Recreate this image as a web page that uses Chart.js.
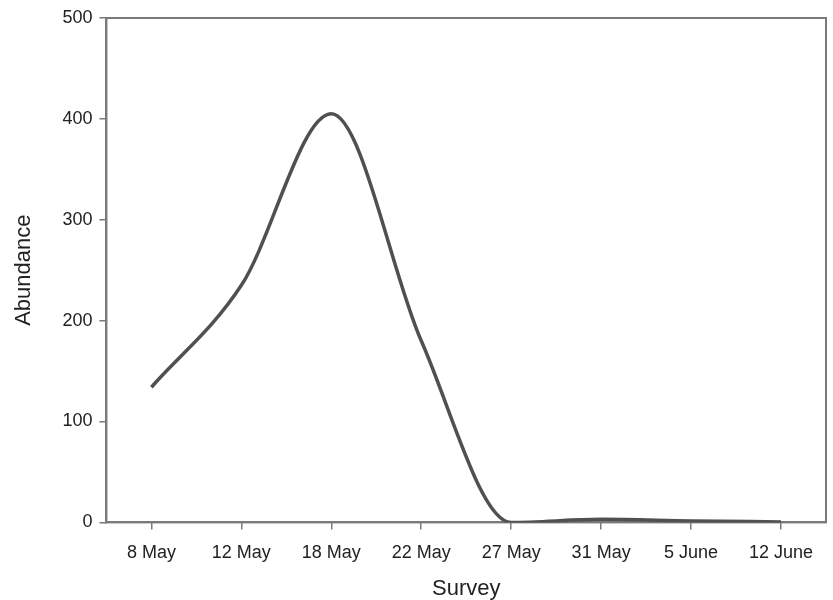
<!DOCTYPE html>
<html>
<head>
<meta charset="utf-8">
<script src="https://cdn.jsdelivr.net/npm/chart.js@4"></script>
<style>
  html, body { margin: 0; padding: 0; background: #fff; }
  #wrap { width: 833px; height: 600px; }
</style>
</head>
<body>
<div id="wrap"><canvas id="chart"></canvas></div>
<script>
const surveys = ["8 May", "12 May", "18 May", "22 May", "27 May", "31 May", "5 June", "12 June"];
const abundance = [134, 235, 405, 180, 0, 3, 1.5, 0.5];
const yTicks = [0, 100, 200, 300, 400, 500];

// draws the box around the plot area (top + right sides)
const frame = {
  id: 'frame',
  beforeDatasetsDraw(chart) {
    const { ctx, chartArea: a } = chart;
    ctx.save();
    ctx.strokeStyle = '#7a7a7a';
    ctx.lineWidth = 2;
    ctx.strokeRect(a.left, a.top, a.right - a.left, a.bottom - a.top);
    ctx.restore();
  }
};

Chart.defaults.font.family = "'Liberation Sans', Arial, sans-serif";
Chart.defaults.color = '#222';

new Chart(document.getElementById('chart'), {
  type: 'line',
  data: {
    labels: surveys,
    datasets: [{
      data: abundance,
      borderColor: '#505050',
      borderWidth: 3.5,
      pointRadius: 0,
      cubicInterpolationMode: 'monotone',
      fill: false,
      clip: { left: 2, top: 2, right: 2, bottom: 0 }
    }]
  },
  options: {
    responsive: true,
    maintainAspectRatio: false,
    animation: false,
    layout: { padding: { top: 18, right: 7, left: 11, bottom: 0 } },
    plugins: { legend: { display: false }, tooltip: { enabled: false } },
    scales: {
      x: {
        offset: true,
        grid: { offset: false, drawOnChartArea: false, tickLength: 7, color: '#7a7a7a', lineWidth: 1.5 },
        border: { color: '#7a7a7a', width: 2 },
        ticks: { font: { size: 18 }, padding: 13, maxRotation: 0, autoSkip: false },
        title: { display: true, text: 'Survey', font: { size: 22, lineHeight: 1 }, padding: { top: 1, bottom: 0 } }
      },
      y: {
        min: 0,
        max: 500,
        afterBuildTicks(axis) { axis.ticks = yTicks.map(v => ({ value: v })); },
        grid: { drawOnChartArea: false, tickLength: 7, color: '#7a7a7a', lineWidth: 1.5 },
        border: { color: '#7a7a7a', width: 2 },
        ticks: { font: { size: 18 }, padding: 7 },
        title: { display: true, text: 'Abundance', font: { size: 22 }, padding: { top: 0, bottom: 18 } }
      }
    }
  },
  plugins: [frame]
});
</script>
</body>
</html>
